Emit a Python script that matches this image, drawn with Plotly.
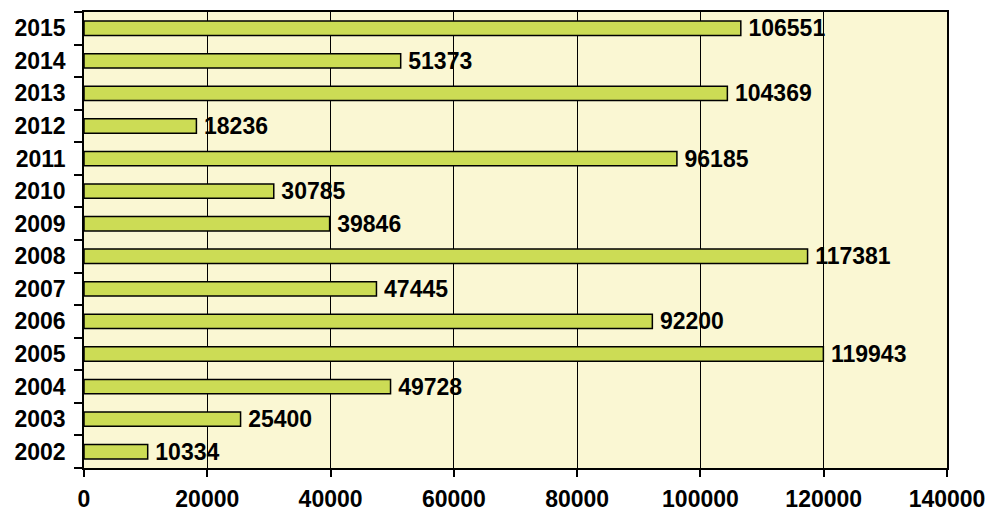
import plotly.graph_objects as go

years = ["2002", "2003", "2004", "2005", "2006", "2007", "2008", "2009",
         "2010", "2011", "2012", "2013", "2014", "2015"]
values = [10334, 25400, 49728, 119943, 92200, 47445, 117381, 39846,
          30785, 96185, 18236, 104369, 51373, 106551]
x_ticks = [0, 20000, 40000, 60000, 80000, 100000, 120000, 140000]

font_family = "Liberation Sans, Arial, sans-serif"
tick_font = dict(family=font_family, size=23, color="black", weight="bold")

fig = go.Figure(go.Bar(
    y=years, x=values, orientation="h",
    marker=dict(color="#CCDC55", line=dict(color="black", width=1.5)),
    width=0.44,
    text=["\u2009" + str(v) for v in values], textposition="outside",
    textfont=dict(family=font_family, size=23, color="black", weight="bold"),
    constraintext="none", cliponaxis=False,
))

fig.update_layout(
    width=987, height=513,
    margin=dict(l=84, r=40, t=12, b=45),
    paper_bgcolor="white", plot_bgcolor="#FAF7D3",
    showlegend=False,
    font=dict(family=font_family, size=23, color="black", weight="bold"),
    xaxis=dict(range=[0, 140000], tickvals=x_ticks, ticktext=[str(t) for t in x_ticks],
               showgrid=True, gridcolor="black", gridwidth=1,
               showline=True, linecolor="black", linewidth=1.5, mirror=True,
               ticks="outside", ticklen=7, tickcolor="black", tickwidth=1.5,
               ticklabelstandoff=3, automargin=False,
               zeroline=False, tickfont=tick_font),
    yaxis=dict(type="category", categoryorder="array", categoryarray=years,
               showgrid=False, showline=True, linecolor="black", linewidth=1.5, mirror=True,
               ticks="outside", ticklen=8, tickcolor="black", tickwidth=1.5,
               tickson="boundaries", ticklabelstandoff=12, automargin=False,
               tickfont=tick_font),
)

fig.write_html("out.html")
